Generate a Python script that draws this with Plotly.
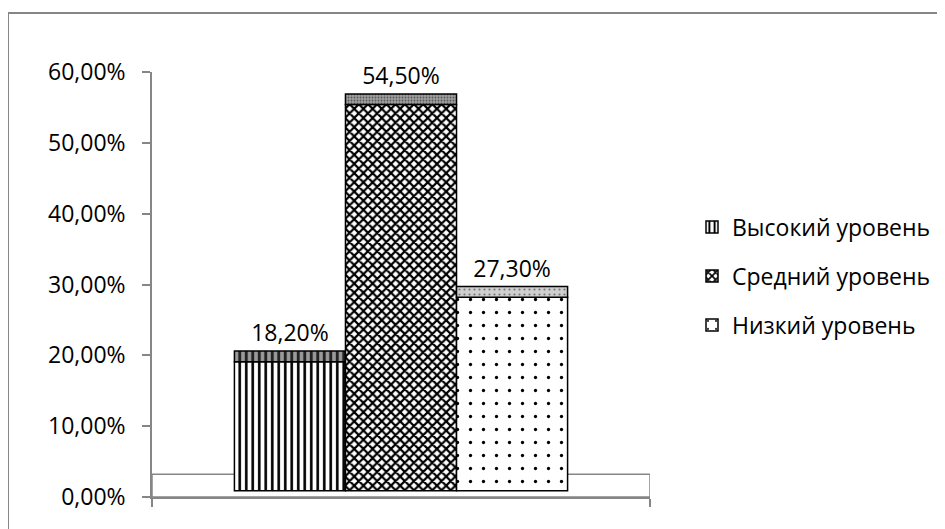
import plotly.graph_objects as go

# ---- data ----
SERIES = ["Высокий уровень", "Средний уровень", "Низкий уровень"]
VALUES = [0.182, 0.545, 0.273]
TICK_VALUES = [0.0, 0.1, 0.2, 0.3, 0.4, 0.5, 0.6]
TICK_LABELS = ["0,00%", "10,00%", "20,00%", "30,00%", "40,00%", "50,00%", "60,00%"]

# ---- style ----
FONT = "Open Sans"
FS = 23
GRAY = "#868686"
SHIFT = 0.009      # pseudo-3D vertical shift of the front face
CAP = 0.015        # visible depth of the top face
FLOOR = 0.032      # visible depth of the floor
PAGE_OFF = 8       # default body margin of the html page

body_patterns = [
    dict(shape="|", size=6.5, solidity=0.4, fgcolor="black", bgcolor="white", fillmode="replace"),
    dict(shape="x", size=6.5, solidity=0.55, fgcolor="black", bgcolor="white", fillmode="replace"),
    dict(shape=".", size=13, solidity=0.05, fgcolor="black", bgcolor="white", fillmode="replace"),
]
cap_patterns = [
    dict(shape="|", size=6.5, solidity=0.45, fgcolor="#222222", bgcolor="#9a9a9a", fillmode="replace"),
    dict(shape=".", size=3, solidity=0.3, fgcolor="#555555", bgcolor="#a0a0a0", fillmode="replace"),
    dict(shape=".", size=5, solidity=0.15, fgcolor="#777777", bgcolor="#cfcfcf", fillmode="replace"),
]

def fmt(v):
    return f"{v * 100:.2f}%".replace(".", ",")

fig = go.Figure()
for i, (name, v) in enumerate(zip(SERIES, VALUES)):
    fig.add_trace(go.Bar(
        x=[0], y=[v], base=[SHIFT], name=name,
        offsetgroup=str(i), legendgroup=str(i),
        marker=dict(color="white", pattern=body_patterns[i], line=dict(color="black", width=1.5)),
        hoverinfo="skip",
    ))
    fig.add_trace(go.Bar(
        x=[0], y=[CAP], base=[v + SHIFT], name=name,
        offsetgroup=str(i), legendgroup=str(i), showlegend=False,
        marker=dict(color="#999999", pattern=cap_patterns[i], line=dict(color="black", width=1.5)),
        text=[fmt(v)], textposition="outside", constraintext="none", cliponaxis=False,
        textfont=dict(family=FONT, size=FS, color="black"),
        hoverinfo="skip",
    ))

# floor of the pseudo-3D chart
fig.add_shape(type="rect", xref="x", yref="y", x0=-0.5, x1=0.5, y0=0, y1=FLOOR,
              line=dict(color=GRAY, width=1.5), fillcolor="white", layer="below")

# page-pixel geometry of the plot area
px_l, px_r, py_t, py_b = 152, 650, 72, 496.7
W, H = 945 - PAGE_OFF, 529 - PAGE_OFF
def xp(px):
    return (px - px_l) / (px_r - px_l)
def yp(py):
    return (py_b - py) / (py_b - py_t)

# chart-area border (cropped at right and bottom)
fig.add_shape(type="line", xref="paper", yref="paper", x0=xp(8), x1=xp(960), y0=yp(13), y1=yp(13),
              line=dict(color=GRAY, width=2))
fig.add_shape(type="line", xref="paper", yref="paper", x0=xp(8), x1=xp(8), y0=yp(13), y1=yp(560),
              line=dict(color=GRAY, width=2))

fig.update_layout(
    width=W, height=H,
    margin=dict(l=px_l - PAGE_OFF, r=W - (px_r - PAGE_OFF), t=py_t - PAGE_OFF,
                b=H - (py_b - PAGE_OFF), autoexpand=False),
    paper_bgcolor="white", plot_bgcolor="white",
    barmode="group", bargap=0.331, bargroupgap=0,
    font=dict(family=FONT, size=FS, color="black"),
    showlegend=True,
    legend=dict(x=xp(692), xanchor="left", y=yp(276), yanchor="middle",
                traceorder="grouped", tracegroupgap=16,
                font=dict(family=FONT, size=FS, color="black"),
                bgcolor="rgba(0,0,0,0)"),
    xaxis=dict(range=[-0.5, 0.5], tickvals=[-0.5, 0.5], ticktext=["", ""],
               ticks="outside", ticklen=8, tickcolor=GRAY, tickwidth=1.5,
               showline=True, linecolor=GRAY, linewidth=1.5,
               showgrid=False, zeroline=False, fixedrange=True),
    yaxis=dict(range=[0, 0.6], tickvals=TICK_VALUES, ticktext=TICK_LABELS,
               ticks="outside", ticklen=8, tickcolor=GRAY, tickwidth=1.5,
               ticklabelstandoff=12,
               showline=True, linecolor=GRAY, linewidth=1.5,
               showgrid=False, zeroline=False, fixedrange=True),
)

fig.write_html("out.html")
